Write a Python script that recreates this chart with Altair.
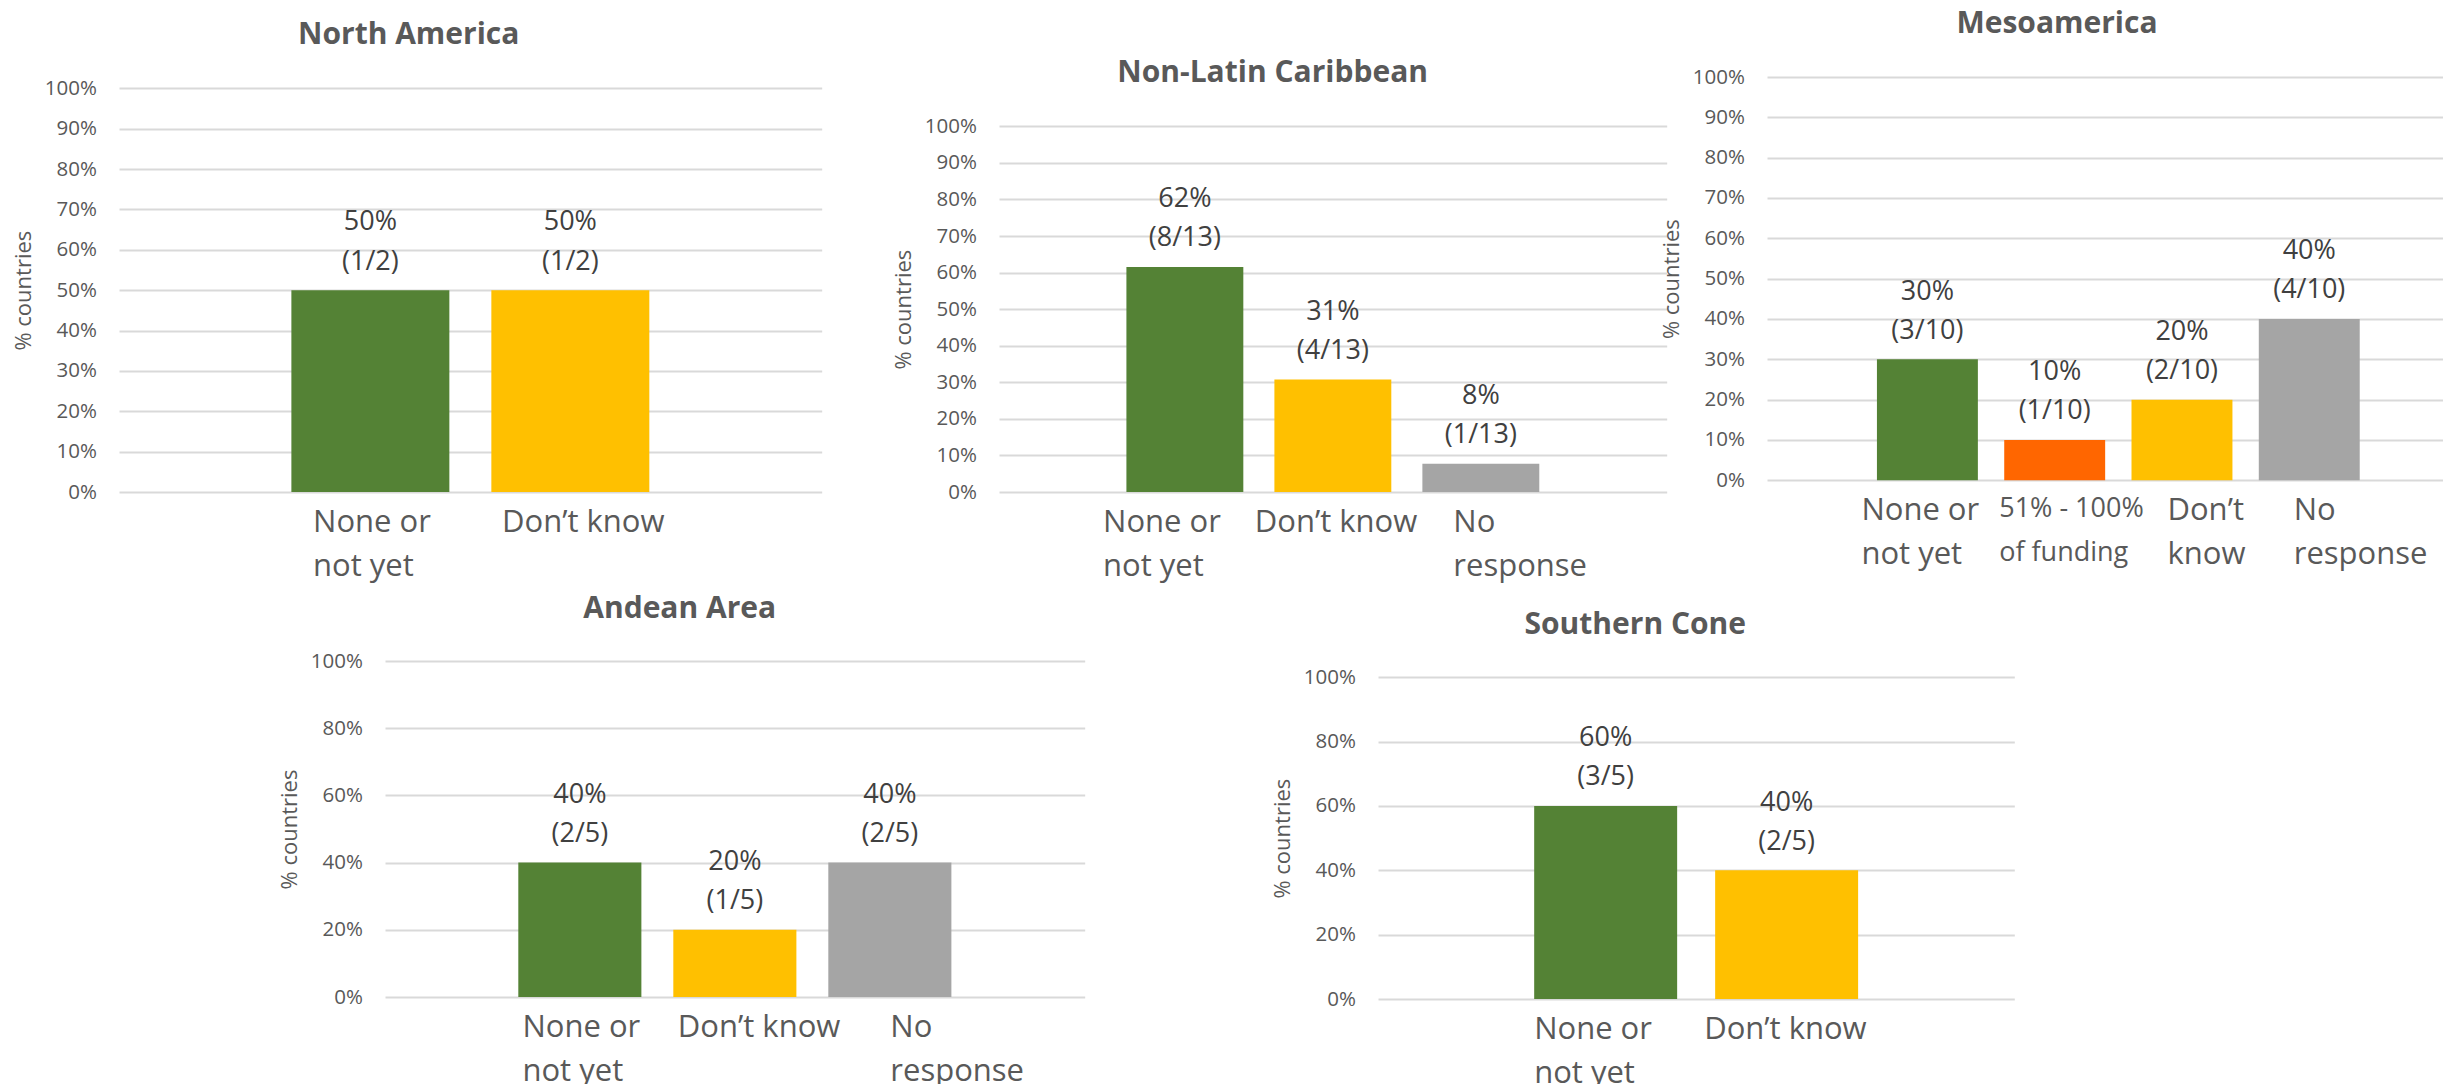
import altair as alt
import pandas as pd

# ---------------- data ----------------
na_title = "North America"
na_cats = ["None or|not yet", "Don’t know"]
na_counts = [1, 1]
na_total = 2

nlc_title = "Non-Latin Caribbean"
nlc_cats = ["None or|not yet", "Don’t know", "No|response"]
nlc_counts = [8, 4, 1]
nlc_total = 13

meso_title = "Mesoamerica"
meso_cats = ["None or|not yet", "51% - 100%|of funding", "Don’t|know", "No|response"]
meso_counts = [3, 1, 2, 4]
meso_total = 10

andean_title = "Andean Area"
andean_cats = ["None or|not yet", "Don’t know", "No|response"]
andean_counts = [2, 1, 2]
andean_total = 5

sc_title = "Southern Cone"
sc_cats = ["None or|not yet", "Don’t know"]
sc_counts = [3, 2]
sc_total = 5

ticks_10 = [0, 0.1, 0.2, 0.3, 0.4, 0.5, 0.6, 0.7, 0.8, 0.9, 1.0]
ticks_20 = [0, 0.2, 0.4, 0.6, 0.8, 1.0]

# ---------------- style ----------------
GREEN, ORANGE, YELLOW, GRAY = "#548235", "#FF6600", "#FFC000", "#A5A5A5"


def color_for(cat):
    if cat.startswith("None"):
        return GREEN
    if cat.startswith("51%"):
        return ORANGE
    if cat.startswith("Don"):
        return YELLOW
    return GRAY


FONT = "Open Sans"
AXIS_GRAY = "#595959"


def panel(title, cats, counts, total, ticks, lay):
    df = pd.DataFrame({"cat": cats, "n": counts, "total": [total] * len(cats)})
    W, H = lay["W"], lay["H"]
    x0, pw = lay["x0"], lay["pw"]
    colors = [color_for(c) for c in cats]

    xscale = alt.Scale(domain=cats, range=[x0, x0 + pw], paddingInner=lay["pi"],
                       paddingOuter=lay["po"], align=lay["align"])
    yscale = alt.Scale(domain=[0, 1], range=[H, lay["ytop"]], nice=False, zero=True)

    conds = [{"test": "datum.value === '%s'" % c, "value": off}
             for c, off in zip(cats, lay["loff"])]
    xaxis = alt.Axis(
        title=None, domain=False, ticks=False, tickSize=0, grid=False,
        labelAngle=0, labelAlign="left", labelBaseline="top",
        labelOffset={"condition": conds, "value": 0},
        labelFontSize={"condition": {"test": "indexof(datum.value, 'funding') >= 0", "value": 27},
                       "value": 31},
        labelFont=FONT, labelColor=AXIS_GRAY, labelPadding=15, labelLineHeight=44,
        labelExpr="split(datum.label, '|')", labelLimit=0, labelOverlap=False,
    )
    yaxis = alt.Axis(
        title="% countries", values=ticks, format=".0%", domain=False, ticks=False,
        tickSize=0, grid=True, gridColor="#D9D9D9", gridWidth=2,
        labelFont=FONT, labelFontSize=20.5, labelColor=AXIS_GRAY, labelPadding=22.6,
        titleFont=FONT, titleFontSize=22, titleFontWeight="normal", titleColor=AXIS_GRAY,
        titleX=-96, titleBaseline="middle", offset=-x0,
    )

    base = alt.Chart(df).transform_calculate(
        v="datum.n / datum.total",
        lbl="format(datum.n / datum.total, '.0%') + '\\n(' + datum.n + '/' + datum.total + ')'",
    )
    bars = base.mark_bar().encode(
        x=alt.X("cat:N", sort=None, scale=xscale, axis=xaxis),
        y=alt.Y("v:Q", scale=yscale, axis=yaxis),
        color=alt.Color("cat:N", scale=alt.Scale(domain=cats, range=colors), legend=None),
    )
    labels = base.mark_text(
        baseline="bottom", dy=-53.8, fontSize=27, font=FONT, color="#404040",
        lineBreak="\n", lineHeight=39.3,
    ).encode(
        x=alt.X("cat:N", sort=None),
        y=alt.Y("v:Q"),
        text="lbl:N",
    )
    return alt.layer(bars, labels).properties(
        width=W, height=H,
        title=alt.TitleParams(
            text=title, anchor="middle", frame="group", dx=lay["tdx"], offset=lay["toff"],
            baseline="alphabetic", font=FONT, fontSize=30, fontWeight="bold", color=AXIS_GRAY,
        ),
    )


na = panel(na_title, na_cats, na_counts, na_total, ticks_10, dict(
    W=880, H=415, x0=0, pw=702.7, ytop=11.3, pi=0.21, po=0.862, align=0.5,
    tdx=-150.3, toff=3.1, loff=[-57.3, -68.3]))
nlc = panel(nlc_title, nlc_cats, nlc_counts, nlc_total, ticks_10, dict(
    W=767.7, H=415, x0=0, pw=667.7, ytop=49.3, pi=0.21, po=0.861, align=0.5,
    tdx=-110.2, toff=-35.3, loff=[-81.8, -78.1, -27.5]))
meso = panel(meso_title, meso_cats, meso_counts, meso_total, ticks_10, dict(
    W=676, H=403.3, x0=0, pw=676, ytop=0, pi=0.207, po=0.759, align=0.569,
    tdx=-48, toff=3.85, loff=[-66, -55.5, -14.5, -15.5]))
andean = panel(andean_title, andean_cats, andean_counts, andean_total, ticks_10, dict(
    W=1258.4, H=336, x0=266, pw=699.7, ytop=0, pi=0.206, po=0.86, align=0.5,
    tdx=-68.5, toff=3.15, loff=[-57.4, -57, 0.5]))
sc = panel(sc_title, sc_cats, sc_counts, sc_total, ticks_20, dict(
    W=636.3, H=338, x0=0, pw=636.3, ytop=16.3, pi=0.21, po=0.863, align=0.5,
    tdx=-60.9, toff=-2.6, loff=[-71.5, -82.5]))

row1 = alt.hconcat(na, nlc, meso, spacing=0, bounds="flush").resolve_scale(
    x="independent", y="independent", color="independent")
row2 = alt.hconcat(andean, sc, spacing=0, bounds="flush").resolve_scale(
    x="independent", y="independent", color="independent")

chart = alt.vconcat(row1, row2, spacing=12, bounds="full").resolve_scale(
    x="independent", y="independent", color="independent"
).properties(
    padding={"left": 4, "top": 1, "right": 0, "bottom": 0}
).configure_view(strokeWidth=0)

chart.save("out.html", embed_options={"renderer": "svg", "actions": False})
